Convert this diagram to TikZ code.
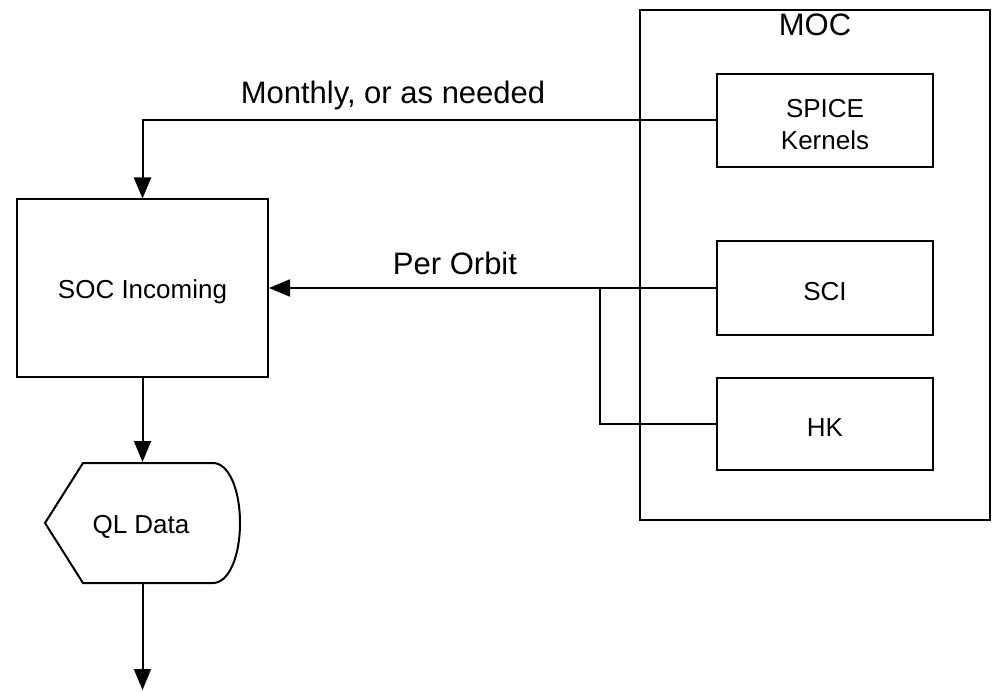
\documentclass[tikz,border=0pt]{standalone}
\usepackage{fontspec}
\setmainfont{Liberation Sans}
\usetikzlibrary{arrows.meta}
\begin{document}
\begin{tikzpicture}[x=1pt,y=-1pt,
  line width=2pt,
  boxtext/.style={font=\fontsize{26}{32}\selectfont, align=center},
  labeltext/.style={font=\fontsize{31}{37}\selectfont},
  box/.style={draw, inner sep=0pt},
  txt/.style={label={[boxtext,yshift=-4pt]center:#1}},
  arr/.style={-{Triangle[length=21pt,width=17pt]}}
]
\useasboundingbox (0,0) rectangle (992,692);
% MOC container
\node[draw, inner sep=0pt, minimum width=350pt, minimum height=510pt] (moc) at (815,265) {};
\node[labeltext] (moclabel) at (815,25) {MOC};
% inner boxes
\node[box, minimum width=216pt, minimum height=93pt, txt={SPICE\\Kernels}] (spice) at (825,120.5) {};
\node[box, minimum width=216pt, minimum height=93pt, txt={SCI}] (sci) at (825,288) {};
\node[box, minimum width=216pt, minimum height=92pt, txt={HK}] (hk) at (825,424) {};
% SOC Incoming
\node[box, minimum width=251pt, minimum height=177pt, txt={SOC Incoming}] (soc) at (142.5,288) {};
% QL Data display shape
\draw (83,463) -- (213,463) .. controls (229,463) and (240,490) .. (240,523)
      .. controls (240,556) and (229,583) .. (213,583) -- (83,583) -- (45,523) -- cycle;
\node[inner sep=0pt, minimum width=195pt, minimum height=120pt, txt={QL Data}] (ql) at (141,523) {};
% connectors
\draw[arr] (spice.west) -| (soc.north);
\node[labeltext] (monthly) at (393,95) {Monthly, or as needed};
\draw[arr] (sci.west) -- (sci.west -| soc.east);
\node[labeltext] (perorbit) at (455,263) {Per Orbit};
\coordinate (jn) at (600,288);
\draw (hk.west) -| (jn);
\draw[arr] (soc.south) -- (soc.south |- ql.north);
\coordinate (out) at (142.5,690);
\draw[arr] (soc.south |- ql.south) -- (out);
\end{tikzpicture}
\end{document}
